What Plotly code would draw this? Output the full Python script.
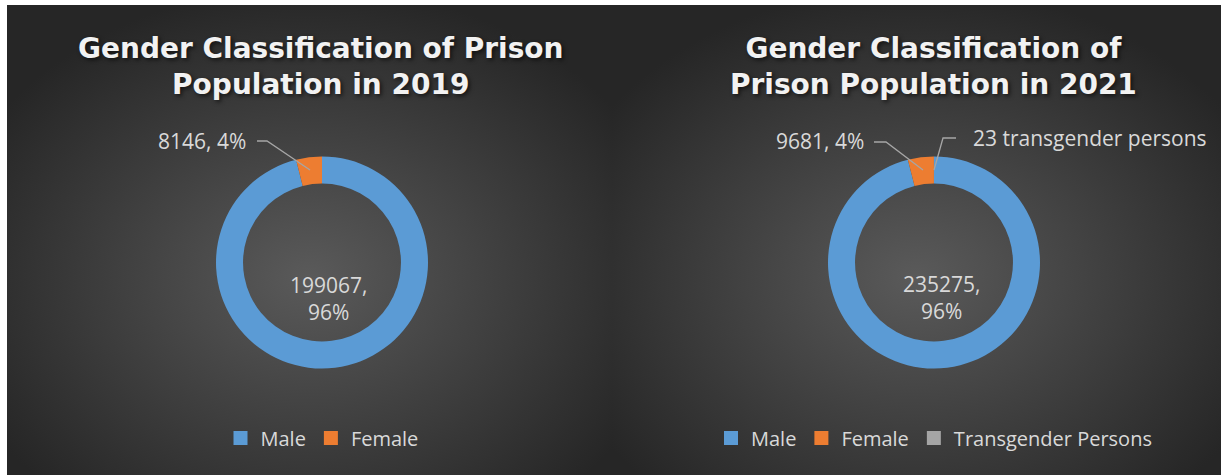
import base64
import plotly.graph_objects as go

W, H = 1221, 475

# ---------------- data ----------------
labels_2019 = ["Male", "Female"]
values_2019 = [199067, 8146]
labels_2021 = ["Male", "Female", "Transgender Persons"]
values_2021 = [235275, 9681, 23]
title_2019 = "Gender Classification of Prison<br>Population in 2019"
title_2021 = "Gender Classification of<br>Prison Population in 2021"
trans_label = "transgender persons"

colors = ["#5B9BD5", "#ED7D31", "#A5A5A5"]
label_color = "#D9D9D9"
line_color = "#A6A6A6"


def px(x):
    return x / W


def py(y):
    return 1 - y / H


def pct(vals, i):
    return round(vals[i] / sum(vals) * 100)


# background: two dark panels with radial gradients
svg = f'''<svg xmlns="http://www.w3.org/2000/svg" width="{W}" height="{H}" viewBox="0 0 {W} {H}" preserveAspectRatio="none">
<defs><radialGradient id="g" cx="0.5" cy="0.58" r="0.62">
<stop offset="0" stop-color="#5A5A5A"/><stop offset="1" stop-color="#262626"/></radialGradient></defs>
<rect x="0" y="0" width="{W}" height="{H}" fill="#FFFFFF"/>
<rect x="7" y="5" width="605" height="{H-5}" fill="url(#g)"/>
<rect x="612" y="5" width="{W-612}" height="{H-5}" fill="url(#g)"/>
</svg>'''
bg_src = "data:image/svg+xml;base64," + base64.b64encode(svg.encode()).decode()

fig = go.Figure()

R = 106
for labels, values, cx, lg in [(labels_2019, values_2019, 322, "legend"),
                               (labels_2021, values_2021, 934, "legend2")]:
    cy = 262.5
    fig.add_trace(go.Pie(
        labels=labels, values=values, hole=0.745, sort=False,
        direction="clockwise", rotation=0, textinfo="none",
        marker=dict(colors=colors[:len(labels)], line=dict(width=0)),
        domain=dict(x=[px(cx - R), px(cx + R)], y=[py(cy + R), py(cy - R)]),
        showlegend=False,
    ))
    # legend entries for this chart
    for i, lab in enumerate(labels):
        fig.add_trace(go.Scatter(
            x=[None], y=[None], mode="markers", name=lab, legend=lg,
            marker=dict(symbol="square", size=14, color=colors[i]),
            showlegend=True, hoverinfo="skip",
        ))

title_font = dict(family="DejaVu Sans", size=28, color="#F2F2F2", weight=700,
                  shadow="2px 2px 4px rgba(0,0,0,0.6)")
lab_font = dict(family="Open Sans", size=21, color=label_color)

annotations = [
    dict(text=title_2019, x=px(321), y=py(67), font=title_font),
    dict(text=title_2021, x=px(933), y=py(67), font=title_font),
    dict(text=f"{values_2019[0]},<br>{pct(values_2019, 0)}%", x=px(328), y=py(298), font=lab_font),
    dict(text=f"{values_2021[0]},<br>{pct(values_2021, 0)}%", x=px(941), y=py(297), font=lab_font),
    dict(text=f"{values_2019[1]}, {pct(values_2019, 1)}%", x=px(248), y=py(141), xanchor="right", font=lab_font),
    dict(text=f"{values_2021[1]}, {pct(values_2021, 1)}%", x=px(866), y=py(141), xanchor="right", font=lab_font),
    dict(text=f"{values_2021[2]} {trans_label}", x=px(971), y=py(138), xanchor="left", font=lab_font),
]
for a in annotations:
    a.update(xref="paper", yref="paper", showarrow=False, yanchor=a.get("yanchor", "middle"),
             xanchor=a.get("xanchor", "center"))


def path(pts):
    return "M " + " L ".join(f"{px(x)},{py(y)}" for x, y in pts)


shapes = [
    dict(type="path", path=path([(257, 141), (267, 141), (310, 170)])),
    dict(type="path", path=path([(874, 142), (886, 142), (923, 170)])),
    dict(type="path", path=path([(934, 170), (943, 138), (956, 138)])),
]
for s in shapes:
    s.update(xref="paper", yref="paper", line=dict(color=line_color, width=1.3))

leg_common = dict(orientation="h", yanchor="middle", xanchor="center", y=py(438),
                  font=dict(family="Open Sans", size=20, color=label_color),
                  bgcolor="rgba(0,0,0,0)", itemwidth=30, itemclick=False)

fig.update_layout(
    width=W, height=H, margin=dict(l=0, r=0, t=0, b=0),
    paper_bgcolor="#FFFFFF", plot_bgcolor="rgba(0,0,0,0)",
    xaxis=dict(visible=False, range=[0, 1], fixedrange=True),
    yaxis=dict(visible=False, range=[0, 1], fixedrange=True),
    images=[dict(source=bg_src, xref="paper", yref="paper", x=0, y=1, sizex=1, sizey=1,
                 xanchor="left", yanchor="top", sizing="stretch", layer="below")],
    annotations=annotations, shapes=shapes,
    legend=dict(x=px(322), **leg_common),
    legend2=dict(x=px(934), **leg_common),
)

fig.write_html("out.html", config={"displayModeBar": False},
               post_script="document.body.style.margin='0';document.body.style.overflow='hidden';")
